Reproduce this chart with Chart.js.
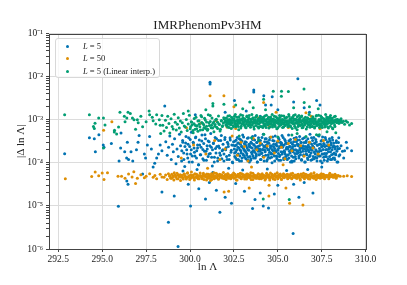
<!DOCTYPE html>
<html>
<head>
<meta charset="utf-8">
<script src="https://cdn.jsdelivr.net/npm/chart.js@4.4.1/dist/chart.umd.min.js"></script>
<style>
  html, body { margin: 0; padding: 0; background: #fff; }
  #wrap { position: relative; width: 407px; height: 285px; }
  #legend {
    position: absolute; left: 55px; top: 38px; width: 105px; height: 40px;
    box-sizing: border-box; border: 1px solid #d8d8d8; border-radius: 3px;
    background: rgba(255,255,255,0.8);
    font: 8.5px "Liberation Serif", serif; color: #222;
  }
  .row { position: absolute; left: 0; height: 12px; line-height: 12px; white-space: nowrap; }
  .dot { position: absolute; left: 10px; top: 4.5px; width: 3px; height: 3px; border-radius: 50%; }
  .lbl { position: absolute; left: 27px; }
</style>
</head>
<body>
<div id="wrap">
  <canvas id="chart" width="407" height="285"></canvas>
  <div id="legend">
    <div class="row" style="top:1px"><span class="dot" style="background:#0173b2"></span><span class="lbl"><i>L</i> = 5</span></div>
    <div class="row" style="top:13px"><span class="dot" style="background:#de8f05"></span><span class="lbl"><i>L</i> = 50</span></div>
    <div class="row" style="top:26px"><span class="dot" style="background:#029e73"></span><span class="lbl"><i>L</i> = 5 (Linear interp.)</span></div>
  </div>
</div>
<script>
// tick labels
const xTicks = [292.5, 295.0, 297.5, 300.0, 302.5, 305.0, 307.5, 310.0];
const yDecades = [1e-6, 1e-5, 1e-4, 1e-3, 1e-2, 1e-1];

// L = 5  (blue), [ln Lambda, |Delta ln Lambda|]
const pointsL5 = [
  // left, sparse
  [292.86,1.63e-4],[294.27,3.8e-4],[294.55,3.6e-4],[294.81,4.5e-4],[294.61,1.8e-4],[295.06,2.6e-4],[295.1,2.3e-4],
  [295.52,2.8e-4],[295.96,1.1e-4],[296.05,2.2e-4],[296.07,4.9e-4],[296.43,3.0e-4],[296.28,1.8e-4],[296.39,1.3e-4],
  [296.5,1.2e-4],[296.64,1.8e-4],[296.74,1.1e-4],[297.04,3.0e-4],[297.1,4.3e-4],[296.95,2.0e-4],[297.4,1.6e-4],
  [297.47,1.3e-4],[297.7,4.1e-4],[297.57,2.6e-4],[297.8,2.1e-4],[297.99,9.8e-5],[297.9,8e-5],[298.1,1.3e-4],
  [298.2,1.6e-4],[298.3,2.6e-4],[298.4,1.9e-4],
  // 298.6 - 302.5
  [298.62,3.1e-4],[298.7,1.5e-4],[298.78,2.3e-4],[298.85,4.2e-4],[298.93,1.2e-4],[299.0,2.7e-4],[299.05,1.8e-4],
  [299.12,3.6e-4],[299.2,9.5e-5],[299.26,2.1e-4],[299.33,1.4e-4],[299.4,4.6e-4],[299.46,2.5e-4],[299.52,1.1e-4],
  [299.58,3.3e-4],[299.64,1.7e-4],[299.7,8.2e-5],[299.75,2.9e-4],[299.81,2.0e-4],[299.87,1.3e-4],[299.92,3.8e-4],
  [299.98,2.4e-4],[300.03,1.6e-4],[300.08,5.1e-4],[300.13,1.05e-4],[300.18,3.0e-4],[300.23,2.2e-4],[300.28,1.45e-4],
  [300.33,4.0e-4],[300.38,1.9e-4],[300.43,2.6e-4],[300.48,9e-5],[300.53,3.4e-4],[300.58,1.55e-4],[300.63,2.3e-4],
  [300.68,4.4e-4],[300.73,1.25e-4],[300.78,2.8e-4],[300.83,1.85e-4],[300.88,3.6e-4],[300.93,1.15e-4],[300.98,2.1e-4],
  [301.03,3.2e-4],[301.08,1.6e-4],[301.13,2.5e-4],[301.18,4.8e-4],[301.23,1.35e-4],[301.28,2.0e-4],[301.33,2.9e-4],
  [301.38,1.05e-4],[301.43,3.9e-4],[301.48,1.7e-4],[301.53,2.4e-4],[301.58,1.3e-4],[301.63,3.3e-4],[301.68,2.2e-4],
  [301.73,1.5e-4],[301.78,4.3e-4],[301.83,1.9e-4],[301.88,2.7e-4],[301.93,1.1e-4],[301.98,3.5e-4],[302.03,2.0e-4],
  [302.08,1.4e-4],[302.13,3.0e-4],[302.18,2.4e-4],[302.23,1.2e-4],[302.28,3.8e-4],[302.33,1.75e-4],[302.38,2.6e-4],
  [302.43,1.0e-4],[302.48,3.1e-4],
  [299.53,1.9e-4],[299.59,3.0e-4],[299.65,1.2e-4],[299.71,2.4e-4],[299.77,4.1e-4],[299.83,1.6e-4],[299.89,2.7e-4],[299.95,1.05e-4],[300.01,3.5e-4],[300.07,2.0e-4],
  [300.13,1.45e-4],[300.19,2.9e-4],[300.25,1.75e-4],[300.31,3.8e-4],[300.37,1.3e-4],[300.43,2.2e-4],[300.49,9e-5],[300.55,2.6e-4],[300.61,1.55e-4],[300.67,3.2e-4],
  [300.73,2.05e-4],[300.79,1.15e-4],[300.85,4.5e-4],[300.91,1.85e-4],[300.97,2.5e-4],[301.03,1.4e-4],[301.09,3.1e-4],[301.15,1.65e-4],[301.21,2.3e-4],[301.27,8.5e-5],
  [301.33,2.8e-4],[301.39,1.35e-4],[301.45,2.15e-4],[301.51,3.6e-4],[301.57,1.1e-4],[301.63,2.45e-4],[301.69,1.7e-4],[301.75,3.3e-4],[301.81,1.25e-4],[301.87,2.0e-4],
  [301.93,1.6e-4],[301.99,3.9e-4],[302.05,2.25e-4],[302.11,1.2e-4],[302.17,2.75e-4],[302.23,1.5e-4],[302.29,3.4e-4],[302.35,1.95e-4],[302.41,1.05e-4],[302.47,2.55e-4],
  // dense blob 302.5 - 308.7
  [302.52,2.1e-4],[302.55,1.4e-4],[302.57,3.2e-4],[302.61,1.8e-4],[302.64,2.6e-4],[302.66,1.2e-4],[302.69,3.9e-4],[302.73,2.3e-4],[302.75,1.6e-4],[302.78,2.9e-4],
  [302.82,1.1e-4],[302.84,2.0e-4],[302.87,3.5e-4],[302.91,1.7e-4],[302.93,2.4e-4],[302.96,1.3e-4],[303.00,4.4e-4],[303.02,2.2e-4],[303.05,1.5e-4],[303.09,2.8e-4],
  [303.11,1.9e-4],[303.14,3.1e-4],[303.18,1.25e-4],[303.20,2.5e-4],[303.23,1.65e-4],[303.27,3.7e-4],[303.29,2.0e-4],[303.32,1.35e-4],[303.36,2.7e-4],[303.38,1.05e-4],
  [303.41,2.4e-4],[303.45,1.15e-4],[303.47,3.0e-4],[303.50,1.75e-4],[303.54,2.2e-4],[303.56,4.1e-4],[303.59,1.45e-4],[303.63,2.65e-4],[303.65,1.9e-4],[303.68,3.4e-4],
  [303.72,1.3e-4],[303.74,2.35e-4],[303.77,1.6e-4],[303.81,2.95e-4],[303.83,1.05e-4],[303.86,2.1e-4],[303.90,3.8e-4],[303.92,1.55e-4],[303.95,2.5e-4],[303.99,1.85e-4],
  [304.01,3.3e-4],[304.04,1.2e-4],[304.08,2.75e-4],[304.10,1.7e-4],[304.13,2.05e-4],[304.17,4.6e-4],[304.19,1.4e-4],[304.22,2.3e-4],[304.26,1.95e-4],[304.28,3.6e-4],
  [304.31,1.5e-4],[304.35,2.6e-4],[304.37,1.1e-4],[304.40,3.1e-4],[304.44,2.0e-4],[304.46,1.35e-4],[304.49,2.85e-4],[304.53,1.75e-4],[304.55,3.9e-4],[304.58,2.25e-4],
  [304.62,1.6e-4],[304.64,2.45e-4],[304.67,1.0e-4],[304.71,3.3e-4],[304.73,1.9e-4],[304.76,2.7e-4],[304.80,1.45e-4],[304.82,2.15e-4],[304.85,4.2e-4],[304.89,1.8e-4],
  [304.91,2.55e-4],[304.94,1.25e-4],[304.98,3.0e-4],[305.00,2.05e-4],[305.03,1.65e-4],[305.07,3.5e-4],[305.09,1.4e-4],[305.12,2.4e-4],[305.16,1.15e-4],[305.18,2.8e-4],
  [305.21,2.9e-4],[305.25,1.6e-4],[305.27,2.3e-4],[305.30,3.9e-4],[305.34,1.2e-4],[305.36,2.6e-4],[305.39,1.8e-4],[305.43,3.2e-4],[305.45,1.4e-4],[305.48,2.1e-4],
  [305.52,2.8e-4],[305.54,1.5e-4],[305.57,2.2e-4],[305.61,4.4e-4],[305.63,1.3e-4],[305.66,2.4e-4],[305.70,1.7e-4],[305.72,3.5e-4],[305.75,2.0e-4],[305.79,1.1e-4],
  [305.81,1.05e-4],[305.84,2.7e-4],[305.88,1.35e-4],[305.90,2.0e-4],[305.93,3.7e-4],[305.97,1.65e-4],[305.99,2.5e-4],[306.02,1.25e-4],[306.06,3.1e-4],[306.08,1.9e-4],
  [306.11,3.4e-4],[306.15,1.9e-4],[306.17,2.65e-4],[306.20,1.45e-4],[306.24,4.1e-4],[306.26,2.2e-4],[306.29,1.75e-4],[306.33,3.0e-4],[306.35,1.15e-4],[306.38,2.4e-4],
  [306.42,1.85e-4],[306.44,2.5e-4],[306.47,1.55e-4],[306.51,3.8e-4],[306.53,2.1e-4],[306.56,1.05e-4],[306.60,2.95e-4],[306.62,1.6e-4],[306.65,2.35e-4],[306.69,1.3e-4],
  [306.71,3.6e-4],[306.74,1.95e-4],[306.78,2.3e-4],[306.80,1.4e-4],[306.83,4.6e-4],[306.87,2.05e-4],[306.89,1.7e-4],[306.92,2.75e-4],[306.96,1.2e-4],[306.98,3.3e-4],
  [307.01,2.25e-4],[307.05,3.9e-4],[307.07,1.75e-4],[307.10,2.85e-4],[307.14,1.35e-4],[307.16,2.0e-4],[307.19,3.1e-4],[307.23,1.1e-4],[307.25,2.6e-4],[307.28,1.5e-4],
  [307.32,1.8e-4],[307.34,4.2e-4],[307.37,2.15e-4],[307.41,1.45e-4],[307.43,2.7e-4],[307.46,1.9e-4],[307.50,3.3e-4],[307.52,1.0e-4],[307.55,2.45e-4],[307.59,1.6e-4],
  [307.61,2.8e-4],[307.64,1.15e-4],[307.68,2.4e-4],[307.70,1.4e-4],[307.73,3.5e-4],[307.77,1.65e-4],[307.79,2.05e-4],[307.82,3.0e-4],[307.86,1.25e-4],[307.88,2.55e-4],
  [307.91,2.1e-4],[307.95,1.4e-4],[307.97,3.2e-4],[308.00,1.8e-4],[308.04,2.6e-4],[308.06,1.2e-4],[308.09,3.9e-4],[308.13,2.3e-4],[308.15,1.6e-4],[308.18,2.9e-4],
  [308.22,1.3e-4],[308.25,2.35e-4],[308.29,1.6e-4],[308.33,2.95e-4],[308.37,1.05e-4],[308.42,2.1e-4],[308.47,3.8e-4],[308.53,1.55e-4],[308.60,2.5e-4],[308.68,1.85e-4],
  [308.75,1.3e-4],[308.8,1.9e-4],[308.9,3.0e-4],[308.95,2.2e-4],[309.2,1.9e-4],
  [302.54,1.7e-4],[302.57,2.5e-4],[302.60,1.3e-4],[302.63,3.4e-4],[302.66,2.0e-4],[302.69,1.55e-4],[302.72,2.9e-4],[302.75,1.2e-4],[302.78,2.2e-4],[302.81,3.6e-4],
  [302.84,1.45e-4],[302.87,2.7e-4],[302.90,1.9e-4],[302.93,1.1e-4],[302.96,3.2e-4],[302.99,2.35e-4],[303.02,1.6e-4],[303.05,4.0e-4],[303.08,2.05e-4],[303.11,1.35e-4],
  [303.14,2.6e-4],[303.17,1.8e-4],[303.20,3.0e-4],[303.23,1.5e-4],[303.26,2.25e-4],[303.29,1.15e-4],[303.32,3.8e-4],[303.35,1.95e-4],[303.38,2.45e-4],[303.41,1.4e-4],
  [303.44,2.3e-4],[303.47,1.25e-4],[303.50,2.85e-4],[303.53,1.6e-4],[303.56,3.5e-4],[303.59,1.9e-4],[303.62,1.3e-4],[303.65,2.55e-4],[303.68,1.75e-4],[303.71,4.3e-4],
  [303.74,2.15e-4],[303.77,1.45e-4],[303.80,2.95e-4],[303.83,1.05e-4],[303.86,2.4e-4],[303.89,1.85e-4],[303.92,3.25e-4],[303.95,1.55e-4],[303.98,2.1e-4],[304.01,1.2e-4],
  [304.04,2.7e-4],[304.07,1.65e-4],[304.10,3.9e-4],[304.13,2.0e-4],[304.16,1.4e-4],[304.19,2.5e-4],[304.22,1.1e-4],[304.25,3.1e-4],[304.28,1.8e-4],[304.31,2.35e-4],
  [304.34,3.6e-4],[304.37,2.2e-4],[304.40,1.2e-4],[304.43,2.9e-4],[304.46,1.55e-4],[304.49,2.0e-4],[304.52,3.4e-4],[304.55,1.3e-4],[304.58,2.5e-4],[304.61,1.7e-4],
  [304.64,1.35e-4],[304.67,2.05e-4],[304.70,4.0e-4],[304.73,1.6e-4],[304.76,2.35e-4],[304.79,3.2e-4],[304.82,1.1e-4],[304.85,1.9e-4],[304.88,2.7e-4],[304.91,1.45e-4],
  [304.94,1.4e-4],[304.97,2.45e-4],[305.00,1.95e-4],[305.03,3.8e-4],[305.06,1.15e-4],[305.09,2.25e-4],[305.12,1.5e-4],[305.15,3.0e-4],[305.18,1.8e-4],[305.21,2.6e-4],
  [305.24,4.3e-4],[305.27,1.75e-4],[305.30,2.55e-4],[305.33,1.3e-4],[305.36,1.9e-4],[305.39,3.5e-4],[305.42,1.6e-4],[305.45,2.85e-4],[305.48,1.25e-4],[305.51,2.3e-4],
  [305.54,1.2e-4],[305.57,2.1e-4],[305.60,1.55e-4],[305.63,3.25e-4],[305.66,1.85e-4],[305.69,2.4e-4],[305.72,1.05e-4],[305.75,2.95e-4],[305.78,1.45e-4],[305.81,2.15e-4],
  [305.84,2.35e-4],[305.87,1.8e-4],[305.90,3.1e-4],[305.93,1.1e-4],[305.96,2.5e-4],[305.99,1.4e-4],[306.02,2.0e-4],[306.05,3.9e-4],[306.08,1.65e-4],[306.11,2.7e-4],
  [306.14,1.7e-4],[306.17,2.5e-4],[306.20,1.3e-4],[306.23,3.4e-4],[306.26,2.0e-4],[306.29,1.55e-4],[306.32,2.9e-4],[306.35,1.2e-4],[306.38,2.2e-4],[306.41,3.6e-4],
  [306.44,2.15e-4],[306.47,1.45e-4],[306.50,2.95e-4],[306.53,1.05e-4],[306.56,2.4e-4],[306.59,1.85e-4],[306.62,3.25e-4],[306.65,1.55e-4],[306.68,2.1e-4],[306.71,1.2e-4],
  [306.74,2.6e-4],[306.77,1.8e-4],[306.80,3.0e-4],[306.83,1.5e-4],[306.86,2.25e-4],[306.89,1.15e-4],[306.92,3.8e-4],[306.95,1.95e-4],[306.98,2.45e-4],[307.01,1.4e-4],
  [307.04,2.3e-4],[307.07,1.25e-4],[307.10,2.85e-4],[307.13,1.6e-4],[307.16,3.5e-4],[307.19,1.9e-4],[307.22,1.3e-4],[307.25,2.55e-4],[307.28,1.75e-4],[307.31,4.3e-4],
  [307.34,1.45e-4],[307.37,2.7e-4],[307.40,1.9e-4],[307.43,1.1e-4],[307.46,3.2e-4],[307.49,2.35e-4],[307.52,1.6e-4],[307.55,4.0e-4],[307.58,2.05e-4],[307.61,1.35e-4],
  [307.64,2.7e-4],[307.67,1.65e-4],[307.70,3.9e-4],[307.73,2.0e-4],[307.76,1.4e-4],[307.79,2.5e-4],[307.82,1.1e-4],[307.85,3.1e-4],[307.88,1.8e-4],[307.91,2.35e-4],
  [307.94,3.6e-4],[307.97,2.2e-4],[308.00,1.2e-4],[308.03,2.9e-4],[308.06,1.55e-4],[308.09,2.0e-4],[308.12,3.4e-4],[308.15,1.3e-4],[308.18,2.5e-4],[308.21,1.7e-4],
  [308.24,1.2e-4],[308.27,2.1e-4],[308.30,1.55e-4],[308.33,3.25e-4],[308.36,1.85e-4],[308.39,2.4e-4],[308.42,1.05e-4],[308.45,2.95e-4],[308.48,1.45e-4],[308.51,2.15e-4],
  // just under the blob
  [299.6,6.5e-5],[300.4,7e-5],[301.3,6e-5],[302.2,7.5e-5],[303.0,6.8e-5],[304.4,7.2e-5],[305.5,6.6e-5],[306.7,7.0e-5],[307.5,8e-5],
  // high outliers
  [301.14,7.4e-3],[301.14,6.8e-3],[306.14,8.9e-3],[303.63,4.9e-3],[303.63,4.4e-3],[302.53,2.8e-3],[304.2,3.6e-3],
  [304.3,2.2e-3],[304.62,2.2e-3],[304.68,3.4e-3],[307.21,2.8e-3],[307.4,2.2e-3],[306.5,1.9e-3],[298.56,2.1e-3],
  [305.9,2.6e-3],[303.2,1.6e-3],[302.0,1.5e-3],[300.3,1.3e-3],[305.0,1.7e-3],[306.8,1.5e-3],[304.0,1.2e-3],
  // low outliers
  [295.92,9.8e-6],[296.47,3.2e-5],[298.77,4.2e-6],[299.32,1.15e-6],[300.03,1.0e-5],[301.7,7.1e-6],[305.87,2.3e-6],
  [303.56,8.7e-6],[304.17,1.0e-5],[304.47,9e-6],[298.4,2.1e-5],[299.1,1.7e-5],[300.88,1.45e-5],[302.36,1.15e-5],
  [301.5,2.3e-5],[302.0,1.6e-5],[303.1,2.2e-5],[303.7,1.4e-5],[305.0,3.0e-5],[305.9,3.2e-5],[306.5,3.5e-5],
  [307.0,2.0e-5],[302.6,3.3e-5],[304.0,2.0e-5],[300.5,2.5e-5],[299.9,3.2e-5],[304.8,1.9e-5],[306.2,1.6e-5],
  [301.1,3.5e-5],[297.3,5.5e-5],[296.4,3.8e-5]
];

// L = 50 (orange)
const pointsL50 = [
  // left, sparse
  [292.9,4.3e-5],[294.4,4.8e-5],[294.6,6.1e-5],[294.8,5.0e-5],[295.0,5.8e-5],[295.1,4.1e-5],[295.3,5.9e-5],
  [295.9,4.9e-5],[296.1,4.9e-5],[296.3,4.4e-5],[296.5,5.5e-5],[296.7,4.7e-5],[296.8,6.2e-5],[296.9,3.3e-5],
  [297.0,4.4e-5],[297.2,5.3e-5],[297.4,4.5e-5],[297.5,4.9e-5],[297.7,5.6e-5],[297.9,4.6e-5],[298.0,5.1e-5],
  [298.1,4.3e-5],[298.3,5.4e-5],[298.4,4.7e-5],
  // band
  [298.52,4.6e-5],[298.61,5.2e-5],[298.70,4.1e-5],[298.77,5.6e-5],[298.85,4.9e-5],[298.96,4.4e-5],[299.02,5.0e-5],[299.10,5.9e-5],
  [299.18,4.7e-5],[299.25,4.3e-5],[299.31,5.3e-5],[299.40,4.8e-5],[299.46,3.9e-5],[299.53,5.1e-5],[299.60,4.5e-5],[299.66,5.5e-5],
  [299.72,4.9e-5],[299.79,4.2e-5],[299.85,5.7e-5],[299.90,4.6e-5],[299.96,5.0e-5],[300.03,4.4e-5],[300.08,6.1e-5],[300.14,4.8e-5],
  [300.19,5.2e-5],[300.25,4.0e-5],[300.31,4.7e-5],[300.36,5.4e-5],[300.42,4.5e-5],[300.47,5.0e-5],[300.53,4.3e-5],[300.58,5.8e-5],
  [300.63,4.9e-5],[300.69,4.6e-5],[300.74,5.3e-5],[300.80,4.1e-5],[300.85,5.0e-5],[300.90,4.7e-5],[300.96,5.5e-5],[301.01,4.4e-5],
  [301.06,5.1e-5],[301.12,4.8e-5],[301.17,3.9e-5],[301.22,5.6e-5],[301.27,4.6e-5],[301.33,5.2e-5],[301.38,4.3e-5],[301.43,4.9e-5],
  [301.48,5.7e-5],[301.54,4.5e-5],[301.59,5.0e-5],[301.64,4.2e-5],[301.69,5.4e-5],[301.75,4.7e-5],[301.80,5.1e-5],[301.85,4.4e-5],
  [301.90,6.0e-5],[301.96,4.8e-5],[302.01,5.3e-5],[302.06,4.1e-5],[302.11,4.9e-5],[302.17,5.5e-5],[302.22,4.6e-5],[302.27,5.0e-5],
  [302.32,4.3e-5],[302.38,5.2e-5],[302.43,4.7e-5],[302.48,5.8e-5],[302.53,4.5e-5],[302.59,5.1e-5],[302.64,4.0e-5],[302.69,4.9e-5],
  [302.74,5.4e-5],[302.80,4.6e-5],[302.85,5.0e-5],[302.90,4.4e-5],[302.95,5.6e-5],[303.01,4.8e-5],[303.06,5.2e-5],[303.11,4.2e-5],
  [303.16,4.9e-5],[303.22,5.5e-5],[303.27,4.5e-5],[303.32,5.0e-5],[303.37,4.7e-5],[303.43,5.3e-5],[303.48,4.1e-5],[303.53,4.9e-5],
  [303.58,5.7e-5],[303.64,4.6e-5],[303.69,5.1e-5],[303.74,4.4e-5],[303.79,5.0e-5],[303.85,4.8e-5],[303.90,5.4e-5],[303.95,4.3e-5],
  [304.00,5.0e-5],[304.06,4.7e-5],[304.11,5.6e-5],[304.16,4.5e-5],[304.21,5.1e-5],[304.27,4.0e-5],[304.32,4.9e-5],[304.37,5.3e-5],
  [304.42,4.6e-5],[304.48,5.0e-5],[304.53,4.4e-5],[304.58,5.8e-5],[304.63,4.8e-5],[304.69,5.2e-5],[304.74,4.2e-5],[304.79,4.9e-5],
  [304.84,5.5e-5],[304.90,4.6e-5],[304.95,5.0e-5],[305.00,4.3e-5],[305.06,5.3e-5],[305.11,4.7e-5],[305.16,5.1e-5],[305.21,4.1e-5],
  [305.27,4.9e-5],[305.32,5.6e-5],[305.37,4.5e-5],[305.42,5.0e-5],[305.48,4.8e-5],[305.53,5.4e-5],[305.58,4.4e-5],[305.63,5.0e-5],
  [305.69,4.7e-5],[305.74,5.2e-5],[305.79,4.3e-5],[305.84,5.7e-5],[305.90,4.9e-5],[305.95,4.6e-5],[306.00,5.1e-5],[306.06,4.4e-5],
  [306.11,5.3e-5],[306.16,4.8e-5],[306.21,5.0e-5],[306.27,4.2e-5],[306.32,5.5e-5],[306.37,4.7e-5],[306.42,5.1e-5],[306.48,4.5e-5],
  [306.53,4.9e-5],[306.58,5.4e-5],[306.64,4.6e-5],[306.69,5.0e-5],[306.74,4.3e-5],[306.79,5.2e-5],[306.85,4.8e-5],[306.90,5.6e-5],
  [306.95,4.6e-5],[307.01,5.0e-5],[307.06,4.4e-5],[307.11,5.1e-5],[307.16,4.8e-5],[307.22,5.3e-5],[307.27,4.5e-5],[307.32,4.9e-5],
  [307.38,5.2e-5],[307.43,4.7e-5],[307.48,5.0e-5],[307.54,4.6e-5],[307.59,5.4e-5],[307.64,4.8e-5],[307.70,5.1e-5],[307.75,4.7e-5],
  [307.80,5.0e-5],[307.86,4.9e-5],[307.91,5.2e-5],[307.96,4.7e-5],[308.02,5.0e-5],[308.08,4.8e-5],[308.14,5.2e-5],[308.21,4.9e-5],
  [308.28,5.1e-5],[308.36,4.8e-5],[308.45,5.0e-5],[308.55,4.9e-5],[308.75,4.9e-5],[308.95,5.0e-5],[309.2,4.8e-5],
  [298.84,5.0e-5],[298.90,4.4e-5],[298.96,5.4e-5],[299.02,4.7e-5],[299.08,4.0e-5],[299.14,5.2e-5],[299.20,4.9e-5],[299.26,5.7e-5],[299.32,4.3e-5],[299.38,4.8e-5],
  [299.44,5.3e-5],[299.50,4.6e-5],[299.56,5.1e-5],[299.62,4.2e-5],[299.68,5.5e-5],[299.74,4.8e-5],[299.80,4.5e-5],[299.86,5.9e-5],[299.92,4.9e-5],[299.98,4.1e-5],
  [300.04,5.2e-5],[300.10,4.7e-5],[300.16,5.0e-5],[300.22,4.4e-5],[300.28,5.6e-5],[300.34,4.6e-5],[300.40,5.3e-5],[300.46,4.3e-5],[300.52,4.9e-5],[300.58,5.1e-5],
  [300.64,4.8e-5],[300.70,4.3e-5],[300.76,5.7e-5],[300.82,4.9e-5],[300.88,5.2e-5],[300.94,4.0e-5],[301.00,4.7e-5],[301.06,5.4e-5],[301.12,4.4e-5],[301.18,5.0e-5],
  [301.24,4.1e-5],[301.30,4.9e-5],[301.36,5.9e-5],[301.42,4.5e-5],[301.48,4.8e-5],[301.54,5.5e-5],[301.60,4.2e-5],[301.66,5.1e-5],[301.72,4.6e-5],[301.78,5.3e-5],
  [301.84,5.1e-5],[301.90,4.9e-5],[301.96,4.3e-5],[302.02,5.3e-5],[302.08,4.6e-5],[302.14,5.6e-5],[302.20,4.4e-5],[302.26,5.0e-5],[302.32,4.7e-5],[302.38,5.2e-5],
  [302.44,5.0e-5],[302.50,4.4e-5],[302.56,5.4e-5],[302.62,4.7e-5],[302.68,4.0e-5],[302.74,5.2e-5],[302.80,4.9e-5],[302.86,5.7e-5],[302.92,4.3e-5],[302.98,4.8e-5],
  [303.04,5.3e-5],[303.10,4.6e-5],[303.16,5.1e-5],[303.22,4.2e-5],[303.28,5.5e-5],[303.34,4.8e-5],[303.40,4.5e-5],[303.46,5.9e-5],[303.52,4.9e-5],[303.58,4.1e-5],
  [303.64,5.2e-5],[303.70,4.7e-5],[303.76,5.0e-5],[303.82,4.4e-5],[303.88,5.6e-5],[303.94,4.6e-5],[304.00,5.3e-5],[304.06,4.3e-5],[304.12,4.9e-5],[304.18,5.1e-5],
  [304.24,4.8e-5],[304.30,4.3e-5],[304.36,5.7e-5],[304.42,4.9e-5],[304.48,5.2e-5],[304.54,4.0e-5],[304.60,4.7e-5],[304.66,5.4e-5],[304.72,4.4e-5],[304.78,5.0e-5],
  [304.84,4.1e-5],[304.90,4.9e-5],[304.96,5.9e-5],[305.02,4.5e-5],[305.08,4.8e-5],[305.14,5.5e-5],[305.20,4.2e-5],[305.26,5.1e-5],[305.32,4.6e-5],[305.38,5.3e-5],
  [305.44,5.1e-5],[305.50,4.9e-5],[305.56,4.3e-5],[305.62,5.3e-5],[305.68,4.6e-5],[305.74,5.6e-5],[305.80,4.4e-5],[305.86,5.0e-5],[305.92,4.7e-5],[305.98,5.2e-5],
  [306.04,5.0e-5],[306.10,4.4e-5],[306.16,5.4e-5],[306.22,4.7e-5],[306.28,4.0e-5],[306.34,5.2e-5],[306.40,4.9e-5],[306.46,5.7e-5],[306.52,4.3e-5],[306.58,4.8e-5],
  [306.64,5.3e-5],[306.70,4.6e-5],[306.76,5.1e-5],[306.82,4.2e-5],[306.88,5.5e-5],[306.94,4.8e-5],[307.00,4.5e-5],[307.06,5.9e-5],[307.12,4.9e-5],[307.18,4.1e-5],
  [307.24,5.2e-5],[307.30,4.7e-5],[307.36,5.0e-5],[307.42,4.4e-5],[307.48,5.6e-5],[307.54,4.6e-5],[307.60,5.3e-5],[307.66,4.3e-5],[307.72,4.9e-5],[307.78,5.1e-5],
  [307.84,4.8e-5],[307.90,4.3e-5],[307.96,5.7e-5],[308.02,4.9e-5],[308.08,5.2e-5],[308.14,4.6e-5],[308.20,4.7e-5],[308.26,5.4e-5],[308.32,4.4e-5],[308.38,5.0e-5],
  [308.44,5.0e-5],
  // scattered in the blue region
  [300.2,2.6e-4],[300.9,1.6e-4],[301.4,3.3e-4],[301.7,1.2e-4],[302.0,2.1e-4],[302.4,4.2e-4],[302.7,1.5e-4],
  [302.9,3.0e-4],[303.1,2.4e-4],[303.3,1.1e-4],[303.6,3.7e-4],[303.8,2.0e-4],[304.0,2.9e-4],[304.2,1.35e-4],
  [304.4,2.45e-4],[304.6,4.0e-4],[304.8,1.7e-4],[305.0,3.2e-4],[305.2,2.3e-4],[305.4,1.25e-4],[305.6,2.8e-4],
  [305.8,1.9e-4],[306.0,3.5e-4],[306.3,2.5e-4],[306.5,1.45e-4],[306.8,3.0e-4],[307.0,2.2e-4],[307.3,1.6e-4],
  [307.6,3.3e-4],[307.9,2.6e-4],[301.0,7.5e-5],[299.5,1.3e-4],[303.5,8e-5],[305.3,9e-5],
  // scattered in the green band
  [295.08,5.7e-4],[295.55,9e-4],[299.8,6.5e-4],[300.6,8.3e-4],[301.5,9.5e-4],[302.1,6.8e-4],[302.6,6.3e-4],
  [303.3,8.8e-4],[303.9,1.1e-3],[304.5,7.2e-4],[305.1,9.8e-4],[305.6,6.6e-4],[306.2,8.5e-4],[306.9,1.2e-3],
  [307.4,6.2e-4],[308.0,9.0e-4],[304.9,1.5e-3],[306.6,1.45e-3],
  // high / low
  [301.14,3.6e-3],[301.93,3.6e-3],[304.19,2.5e-3],[302.5,2.0e-3],
  [305.67,1.15e-5],[306.43,1.05e-5],[305.46,2.6e-5],[304.49,1.7e-5],[303.37,2.6e-5],[301.94,2.1e-5],[302.2,2.2e-5],[304.5,3.0e-5]
];

// L = 5, linear interpolation (green)
const pointsL5Lin = [
  // left, sparse
  [292.86,1.3e-3],[294.27,1.3e-3],[294.59,8.3e-4],[294.55,6.3e-4],[294.8,1.1e-3],[295.07,1.1e-3],[295.16,7.6e-4],
  [295.07,2.2e-4],[295.69,5.2e-4],[295.82,4.7e-4],[296.01,1.5e-3],[296.26,1.2e-3],[296.4,1.1e-3],[296.6,1.4e-3],
  [296.72,1.1e-3],[296.81,1.0e-3],[297.0,1.0e-3],[297.05,8.5e-4],[296.3,9e-4],[295.93,6.8e-4],[297.3,6.9e-4],
  [297.5,9e-4],[297.67,1.6e-3],[297.7,1.3e-3],[297.85,1.15e-3],[297.9,9.5e-4],[298.05,8e-4],[298.1,1.3e-3],
  [298.25,1.0e-3],[298.3,7.5e-4],[298.33,4.8e-4],[298.4,1.25e-3],[296.47,1.5e-3],[294.5,7e-4],[295.7,5.7e-4],
  [296.9,6e-4],[297.2,1.2e-3],
  // 298.4 - 302
  [298.45,7.5e-4],[298.52,5.5e-4],[298.6,9.8e-4],[298.66,6.6e-4],[298.73,12.0e-4],[298.8,8.2e-4],[298.85,4.9e-4],[298.92,10.5e-4],[298.98,7.0e-4],[299.04,6.1e-4],
  [299.1,13.5e-4],[299.16,8.8e-4],[299.22,5.8e-4],[299.28,7.9e-4],[299.33,11.2e-4],[299.39,6.4e-4],[299.45,9.3e-4],[299.5,5.2e-4],[299.56,8.5e-4],[299.62,14.0e-4],
  [299.67,7.2e-4],[299.73,6.8e-4],[299.79,10.1e-4],[299.84,5.6e-4],[299.9,8.0e-4],[299.96,12.8e-4],[300.01,6.2e-4],[300.07,9.0e-4],[300.12,7.6e-4],[300.18,5.0e-4],
  [300.23,8.1e-4],[300.29,6.0e-4],[300.34,11.5e-4],[300.4,7.3e-4],[300.45,5.4e-4],[300.51,9.5e-4],[300.56,6.9e-4],[300.62,12.5e-4],[300.67,8.6e-4],[300.72,5.9e-4],
  [300.78,7.7e-4],[300.83,10.8e-4],[300.88,6.3e-4],[300.94,8.9e-4],[300.99,5.7e-4],[301.04,13.0e-4],[301.1,7.4e-4],[301.15,9.1e-4],[301.2,6.5e-4],[301.25,11.0e-4],
  [301.31,8.3e-4],[301.36,5.3e-4],[301.41,7.1e-4],[301.46,10.0e-4],[301.52,6.7e-4],[301.57,8.7e-4],[301.62,12.2e-4],[301.68,7.8e-4],[301.73,6.0e-4],[301.79,9.6e-4],
  [301.84,7.0e-4],[301.9,8.4e-4],[301.95,10.4e-4],
  [300.03,6.9e-4],[300.1,8.8e-4],[300.17,5.6e-4],[300.24,10.7e-4],[300.31,7.4e-4],[300.38,6.2e-4],[300.45,9.3e-4],[300.52,7.9e-4],[300.59,5.8e-4],[300.66,11.8e-4],
  [300.73,8.2e-4],[300.8,6.6e-4],[300.87,9.9e-4],[300.94,7.1e-4],[301.01,6.0e-4],[301.08,8.5e-4],[301.15,12.6e-4],[301.22,7.5e-4],[301.29,6.4e-4],[301.36,9.0e-4],
  [301.43,7.8e-4],[301.5,10.3e-4],[301.57,6.3e-4],[301.64,8.0e-4],[301.71,5.5e-4],[301.78,9.4e-4],[301.85,7.3e-4],[301.92,11.2e-4],
  // 302 - 309.2
  [302.00,9.2e-4],[302.04,7.6e-4],[302.07,11.0e-4],[302.11,8.4e-4],[302.14,6.8e-4],[302.18,10.0e-4],[302.21,8.9e-4],[302.25,12.4e-4],[302.28,7.9e-4],[302.32,9.6e-4],
  [302.35,6.3e-4],[302.39,8.6e-4],[302.42,10.5e-4],[302.46,7.3e-4],[302.49,9.9e-4],[302.53,12.0e-4],[302.56,8.1e-4],[302.60,6.9e-4],[302.63,9.4e-4],[302.67,11.5e-4],
  [302.70,7.7e-4],[302.74,8.8e-4],[302.77,5.9e-4],[302.81,10.2e-4],[302.84,8.3e-4],[302.88,13.0e-4],[302.91,7.1e-4],[302.95,9.7e-4],[302.98,8.0e-4],[303.02,10.8e-4],
  [303.05,8.5e-4],[303.09,10.6e-4],[303.12,7.2e-4],[303.16,9.3e-4],[303.19,6.5e-4],[303.23,11.8e-4],[303.26,8.7e-4],[303.30,9.9e-4],[303.33,7.5e-4],[303.37,12.6e-4],
  [303.40,8.2e-4],[303.44,6.7e-4],[303.47,10.3e-4],[303.51,9.0e-4],[303.54,7.8e-4],[303.58,11.2e-4],[303.61,8.4e-4],[303.65,6.1e-4],[303.68,9.5e-4],[303.72,10.0e-4],
  [303.75,7.4e-4],[303.79,12.2e-4],[303.82,8.9e-4],[303.86,6.9e-4],[303.89,9.8e-4],[303.93,8.0e-4],[303.96,11.0e-4],[304.00,7.0e-4],[304.03,9.1e-4],[304.07,10.4e-4],
  [304.10,9.0e-4],[304.14,6.6e-4],[304.17,11.4e-4],[304.21,8.2e-4],[304.24,10.1e-4],[304.28,7.3e-4],[304.31,9.4e-4],[304.35,12.8e-4],[304.38,8.6e-4],[304.42,7.7e-4],
  [304.45,10.7e-4],[304.49,6.4e-4],[304.52,9.2e-4],[304.56,8.1e-4],[304.59,11.6e-4],[304.63,7.9e-4],[304.66,9.8e-4],[304.70,6.8e-4],[304.73,10.4e-4],[304.77,8.5e-4],
  [304.80,12.0e-4],[304.84,7.6e-4],[304.87,9.1e-4],[304.91,8.8e-4],[304.94,6.2e-4],[304.98,10.9e-4],[305.01,8.3e-4],[305.05,9.6e-4],[305.08,7.1e-4],[305.12,11.3e-4],
  [305.15,9.6e-4],[305.19,7.9e-4],[305.22,12.4e-4],[305.26,8.9e-4],[305.29,10.0e-4],[305.33,6.8e-4],[305.36,8.4e-4],[305.40,11.0e-4],[305.43,7.6e-4],[305.47,9.2e-4],
  [305.50,11.5e-4],[305.54,9.4e-4],[305.57,6.9e-4],[305.61,8.1e-4],[305.64,12.0e-4],[305.68,9.9e-4],[305.71,7.3e-4],[305.75,10.5e-4],[305.78,8.6e-4],[305.82,6.3e-4],
  [305.85,10.8e-4],[305.89,8.0e-4],[305.92,9.7e-4],[305.96,7.1e-4],[305.99,13.0e-4],[306.03,8.3e-4],[306.06,10.2e-4],[306.10,5.9e-4],[306.13,8.8e-4],[306.17,7.7e-4],
  [306.20,12.6e-4],[306.24,7.5e-4],[306.27,9.9e-4],[306.31,8.7e-4],[306.34,11.8e-4],[306.38,6.5e-4],[306.41,9.3e-4],[306.45,7.2e-4],[306.48,10.6e-4],[306.52,8.5e-4],
  [306.55,10.0e-4],[306.59,9.5e-4],[306.62,6.1e-4],[306.66,8.4e-4],[306.69,11.2e-4],[306.73,7.8e-4],[306.76,9.0e-4],[306.80,10.3e-4],[306.83,6.7e-4],[306.87,8.2e-4],
  [306.90,10.4e-4],[306.94,9.1e-4],[306.97,7.0e-4],[307.01,11.0e-4],[307.04,8.0e-4],[307.08,9.8e-4],[307.11,6.9e-4],[307.15,8.9e-4],[307.18,12.2e-4],[307.22,7.4e-4],
  [307.25,7.7e-4],[307.29,8.6e-4],[307.32,12.8e-4],[307.36,9.4e-4],[307.39,7.3e-4],[307.43,10.1e-4],[307.46,8.2e-4],[307.50,11.4e-4],[307.53,6.6e-4],[307.57,9.0e-4],
  [307.60,8.5e-4],[307.64,10.4e-4],[307.67,6.8e-4],[307.71,9.8e-4],[307.74,7.9e-4],[307.78,11.6e-4],[307.81,8.1e-4],[307.85,9.2e-4],[307.88,6.4e-4],[307.92,10.7e-4],
  [307.95,11.3e-4],[307.99,7.1e-4],[308.02,9.6e-4],[308.06,8.3e-4],[308.09,10.9e-4],[308.13,6.2e-4],[308.16,8.8e-4],[308.20,9.1e-4],[308.23,7.6e-4],[308.27,12.0e-4],
  [308.31,9.5e-4],[308.35,8.8e-4],[308.39,10.2e-4],[308.44,9.0e-4],[308.49,8.3e-4],[308.54,9.7e-4],[308.60,10.5e-4],[308.66,8.6e-4],[308.73,9.2e-4],[308.80,7.9e-4],
  [308.88,9.4e-4],[308.97,8.7e-4],[309.08,7.6e-4],[309.2,8.2e-4],
  [302.02,8.7e-4],[302.05,10.9e-4],[302.09,7.4e-4],[302.12,9.5e-4],[302.16,12.3e-4],[302.19,8.0e-4],[302.23,6.6e-4],[302.26,10.2e-4],[302.30,9.0e-4],[302.33,7.7e-4],
  [302.37,11.4e-4],[302.40,8.4e-4],[302.44,9.8e-4],[302.47,6.9e-4],[302.51,10.6e-4],[302.54,8.9e-4],[302.58,13.2e-4],[302.61,7.5e-4],[302.65,9.3e-4],[302.68,8.1e-4],
  [302.72,10.0e-4],[302.75,7.0e-4],[302.79,11.8e-4],[302.82,8.6e-4],[302.86,9.6e-4],[302.89,6.4e-4],[302.93,10.4e-4],[302.96,8.2e-4],[303.00,12.6e-4],[303.03,9.1e-4],
  [303.07,7.7e-4],[303.10,9.0e-4],[303.14,10.2e-4],[303.17,6.6e-4],[303.21,8.0e-4],[303.24,12.3e-4],[303.28,9.5e-4],[303.31,7.4e-4],[303.35,10.9e-4],[303.38,8.7e-4],
  [303.42,8.1e-4],[303.45,9.3e-4],[303.49,7.5e-4],[303.52,13.2e-4],[303.56,8.9e-4],[303.59,10.6e-4],[303.63,6.9e-4],[303.66,9.8e-4],[303.70,8.4e-4],[303.73,11.4e-4],
  [303.77,9.1e-4],[303.80,12.6e-4],[303.84,8.2e-4],[303.87,10.4e-4],[303.91,6.4e-4],[303.94,9.6e-4],[303.98,8.6e-4],[304.01,11.8e-4],[304.05,7.0e-4],[304.08,10.0e-4],
  [304.12,8.7e-4],[304.15,10.9e-4],[304.19,7.4e-4],[304.22,9.5e-4],[304.26,12.3e-4],[304.29,8.0e-4],[304.33,6.6e-4],[304.36,10.2e-4],[304.40,9.0e-4],[304.43,7.7e-4],
  [304.47,11.4e-4],[304.50,8.4e-4],[304.54,9.8e-4],[304.57,6.9e-4],[304.61,10.6e-4],[304.64,8.9e-4],[304.68,13.2e-4],[304.71,7.5e-4],[304.75,9.3e-4],[304.78,8.1e-4],
  [304.82,10.0e-4],[304.85,7.0e-4],[304.89,11.8e-4],[304.92,8.6e-4],[304.96,9.6e-4],[304.99,6.4e-4],[305.03,10.4e-4],[305.06,8.2e-4],[305.10,12.6e-4],[305.13,9.1e-4],
  [305.17,7.7e-4],[305.20,9.0e-4],[305.24,10.2e-4],[305.27,6.6e-4],[305.31,8.0e-4],[305.34,12.3e-4],[305.38,9.5e-4],[305.41,7.4e-4],[305.45,10.9e-4],[305.48,8.7e-4],
  [305.52,8.1e-4],[305.55,9.3e-4],[305.59,7.5e-4],[305.62,13.2e-4],[305.66,8.9e-4],[305.69,10.6e-4],[305.73,6.9e-4],[305.76,9.8e-4],[305.80,8.4e-4],[305.83,11.4e-4],
  [305.87,9.1e-4],[305.90,12.6e-4],[305.94,8.2e-4],[305.97,10.4e-4],[306.01,6.4e-4],[306.04,9.6e-4],[306.08,8.6e-4],[306.11,11.8e-4],[306.15,7.0e-4],[306.18,10.0e-4],
  [306.22,8.7e-4],[306.25,10.9e-4],[306.29,7.4e-4],[306.32,9.5e-4],[306.36,12.3e-4],[306.39,8.0e-4],[306.43,6.6e-4],[306.46,10.2e-4],[306.50,9.0e-4],[306.53,7.7e-4],
  [306.57,11.4e-4],[306.60,8.4e-4],[306.64,9.8e-4],[306.67,6.9e-4],[306.71,10.6e-4],[306.74,8.9e-4],[306.78,13.2e-4],[306.81,7.5e-4],[306.85,9.3e-4],[306.88,8.1e-4],
  [306.92,10.0e-4],[306.95,7.0e-4],[306.99,11.8e-4],[307.02,8.6e-4],[307.06,9.6e-4],[307.09,6.4e-4],[307.13,10.4e-4],[307.16,8.2e-4],[307.20,12.6e-4],[307.23,9.1e-4],
  [307.27,7.7e-4],[307.30,9.0e-4],[307.34,10.2e-4],[307.37,6.6e-4],[307.41,8.0e-4],[307.44,12.3e-4],[307.48,9.5e-4],[307.51,7.4e-4],[307.55,10.9e-4],[307.58,8.7e-4],
  [307.62,8.1e-4],[307.65,9.3e-4],[307.69,7.5e-4],[307.72,13.2e-4],[307.76,8.9e-4],[307.79,10.6e-4],[307.83,6.9e-4],[307.86,9.8e-4],[307.90,8.4e-4],[307.93,11.4e-4],
  [307.97,9.1e-4],[308.00,12.6e-4],[308.04,8.2e-4],[308.07,10.4e-4],[308.11,6.4e-4],[308.14,9.6e-4],[308.18,8.6e-4],[308.21,11.8e-4],[308.25,7.0e-4],[308.28,10.0e-4],
  [308.32,9.3e-4],[308.35,8.6e-4],[308.39,10.1e-4],[308.42,9.0e-4],[308.46,8.4e-4],[308.49,9.8e-4],[308.53,9.2e-4],[308.56,8.9e-4],[308.60,9.5e-4],
  // lower tail of the band
  [302.8,4.2e-4],[303.5,3.8e-4],[304.2,4.6e-4],[305.0,4.0e-4],[305.8,4.4e-4],[306.6,4.1e-4],[307.2,4.5e-4],
  [303.9,3.4e-4],[306.1,4.8e-4],[308.3,5.0e-4],[307.8,5.3e-4],[307.36,4.5e-4],
  // outliers
  [301.3,2.4e-3],[301.3,2.1e-3],[301.93,2.3e-3],[304.19,3.0e-3],[305.21,4.6e-3],[305.6,4.5e-3],[305.2,3.5e-3],
  [306.5,2.5e-3],[306.49,5.2e-3],[304.74,4.6e-3],[303.0,1.8e-3],[303.6,1.9e-3],[302.6,2.2e-3],[306.8,2.0e-3],
  [307.3,1.8e-3],[300.9,1.7e-3],[299.9,1.6e-3],[303.4,2.6e-3],[305.9,1.9e-3],[304.3,1.7e-3],
  [304.17,1.45e-5],[305.65,1.4e-5]
];

const sup = { '-': '\u207B', '0': '\u2070', '1': '\u00B9', '2': '\u00B2', '3': '\u00B3', '4': '\u2074', '5': '\u2075', '6': '\u2076', '7': '\u2077', '8': '\u2078', '9': '\u2079' };
const tickFont = { family: 'Liberation Serif', size: 9.5 };
const axisColor = '#444';
const gridColor = '#dcdcdc';

function toXY(pts) {
  return pts.map(p => ({ x: p[0], y: p[1] }));
}

// box round the plot area
const frame = {
  id: 'frame',
  afterDatasetsDraw(chart) {
    const a = chart.chartArea;
    const c = chart.ctx;
    c.save();
    c.strokeStyle = axisColor;
    c.lineWidth = 1;
    c.strokeRect(Math.round(a.left) + 0.5, Math.round(a.top) + 0.5,
      Math.round(a.right - a.left), Math.round(a.bottom - a.top));
    c.restore();
  }
};

const ctx = document.getElementById('chart').getContext('2d');
new Chart(ctx, {
  type: 'scatter',
  data: {
    datasets: [
      { label: 'L = 5', data: toXY(pointsL5), backgroundColor: '#0173b2', order: 3 },
      { label: 'L = 50', data: toXY(pointsL50), backgroundColor: '#de8f05', order: 2 },
      { label: 'L = 5 (Linear interp.)', data: toXY(pointsL5Lin), backgroundColor: '#029e73', order: 1 }
    ]
  },
  options: {
    responsive: false,
    animation: false,
    devicePixelRatio: 1,
    elements: { point: { radius: 1.5, borderWidth: 0, hoverRadius: 1.5 } },
    layout: { padding: { left: 0, right: 41, top: 0, bottom: 0 } },
    plugins: {
      legend: { display: false },
      tooltip: { enabled: false },
      title: {
        display: true,
        text: 'IMRPhenomPv3HM',
        fullSize: false,
        color: '#222',
        font: { family: 'Liberation Serif', size: 13, weight: 'normal' },
        padding: { top: 18, bottom: 0 }
      }
    },
    scales: {
      x: {
        type: 'linear',
        min: 291.97,
        max: 310.02,
        afterBuildTicks: s => { s.ticks = xTicks.map(v => ({ value: v })); },
        afterFit: s => { s.height = 36; },
        ticks: { callback: v => v.toFixed(1), font: tickFont, color: '#222', padding: 2, maxRotation: 0, autoSkip: false },
        grid: { color: gridColor, tickColor: axisColor, tickLength: 3 },
        border: { display: false },
        title: { display: true, text: 'ln \u039B', color: '#222', font: { family: 'Liberation Serif', size: 11 }, padding: { top: 0, bottom: 11 } }
      },
      y: {
        type: 'logarithmic',
        min: 1e-6,
        max: 1e-1,
        afterBuildTicks: s => {
          const t = [];
          yDecades.forEach((d, i) => {
            t.push({ value: d, major: true });
            if (i < yDecades.length - 1) {
              for (let k = 2; k < 10; k++) t.push({ value: k * d, major: false });
            }
          });
          s.ticks = t;
        },
        afterFit: s => { s.width = 49; },
        ticks: {
          autoSkip: false,
          font: tickFont,
          color: '#222',
          padding: 3,
          callback: function (v) {
            const e = Math.round(Math.log10(v));
            if (Math.abs(v / Math.pow(10, e) - 1) > 1e-6) return '';
            return '10' + String(e).split('').map(ch => sup[ch]).join('');
          }
        },
        grid: {
          color: c => (c.tick && c.tick.major) ? gridColor : 'rgba(0,0,0,0)',
          tickColor: axisColor,
          tickLength: 3
        },
        border: { display: false },
        title: { display: true, text: '|\u0394 ln \u039B|', color: '#222', font: { family: 'Liberation Serif', size: 11 }, padding: { top: 15, bottom: 0 } }
      }
    }
  },
  plugins: [frame]
});
</script>
</body>
</html>
